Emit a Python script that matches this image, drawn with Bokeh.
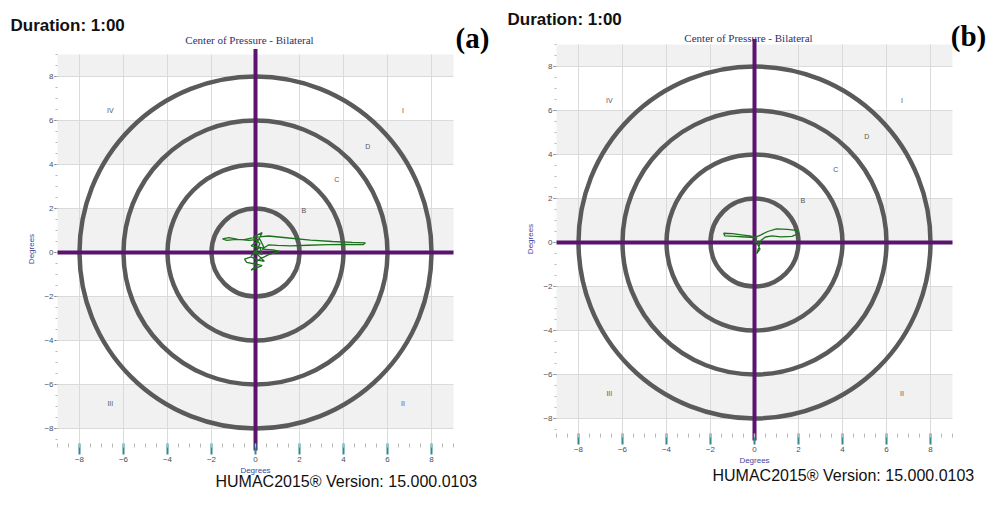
from bokeh.plotting import figure
from bokeh.models import Range1d, Label, SingleIntervalTicker
from bokeh.layouts import row
from bokeh.core.properties import value
from bokeh.embed import file_html
from bokeh.resources import INLINE

# ---------------- data ----------------
ring_radii = [2, 4, 6, 8]
band_bottoms = [-8, -4, 0, 4, 8]          # light grey horizontal bands (2 deg tall)
zone_labels = ["IV", "I", "D", "C", "B", "III", "II"]
zone_x = [-6.6, 6.7, 5.1, 3.7, 2.2, -6.6, 6.7]
zone_y = [6.45, 6.45, 4.8, 3.3, 1.9, -6.85, -6.85]

cop_a_x = [0.0, 0.2, -0.1, 0.3, 0.1, -0.2, 0.4, 0.2, -0.3, -0.8, -1.2, -1.5, -1.3, -0.9,
           -0.5, 0.0, 0.6, 1.5, 2.5, 3.5, 4.4, 5.0, 4.9, 4.2, 3.3, 2.4, 1.6, 1.0, 0.6,
           0.3, 0.8, 1.1, 0.6, 0.2, -0.1, 0.3, -0.2, 0.1, -0.4, -0.5, -0.2, 0.1, 0.4,
           -0.1, 0.3, 0.2, -0.2, 0.1, 0.0]
cop_a_y = [0.0, 0.4, 0.7, 0.9, 0.5, 0.3, 0.2, 0.6, 0.55, 0.6, 0.68, 0.62, 0.55, 0.6,
           0.58, 0.7, 0.75, 0.66, 0.56, 0.5, 0.46, 0.44, 0.36, 0.37, 0.36, 0.33, 0.3,
           0.32, 0.35, 0.15, 0.12, 0.05, -0.1, -0.3, -0.5, -0.6, -0.8, -0.55, -0.45,
           -0.3, -0.2, -0.35, -0.4, 0.1, -0.1, 0.25, -0.15, 0.05, 0.0]

cop_b_x = [0.0, 0.1, -0.2, -0.6, -1.0, -1.4, -1.35, -0.9, -0.4, 0.0, 0.3, 0.6, 1.0,
           1.5, 1.9, 2.0, 1.7, 1.2, 0.8, 0.5, 0.3, 0.2, 0.1, 0.25, 0.15, 0.2, 0.0]
cop_b_y = [0.0, 0.2, 0.3, 0.35, 0.4, 0.42, 0.3, 0.28, 0.25, 0.22, 0.35, 0.5, 0.62,
           0.6, 0.55, 0.4, 0.28, 0.26, 0.3, 0.25, 0.1, -0.2, -0.5, -0.3, -0.1, 0.05, 0.0]

duration_text = "Duration: 1:00"
title_text = "Center of Pressure - Bilateral"
version_text = "HUMAC2015\u00ae Version: 15.000.0103"
axis_title = "Degrees"

# ---------------- layout / styles ----------------
FIG_W, FIG_H = 494, 490
S = 22.0                  # px per degree
PLOT_X = (-9.0, 9.0)      # extent of the gridded plot area
PLOT_Y = (-8.7, 9.0)
CROSS_V = (-9.0, 9.25)    # vertical purple bar overshoots a little

RING = "#5a5a5a"
PURPLE = "#5a146e"
GREEN = "#1c721c"
BAND = "#f1f1f1"
GRID = "#dadada"
AXLAB = "#3c46a0"
TICKLAB = "#4c4c5c"


def make_panel(x0px, y0px, fig_left, tag, trace_x, trace_y, pos):
    # x0px, y0px: pixel position (within the figure) of the data origin
    p = figure(width=FIG_W, height=FIG_H,
               x_range=Range1d(-x0px / S, (FIG_W - x0px) / S),
               y_range=Range1d((y0px - FIG_H) / S, y0px / S),
               output_backend="svg", toolbar_location=None, min_border=0)
    p.outline_line_color = None
    p.background_fill_color = "white"
    p.border_fill_color = "white"

    for ax in (p.xaxis, p.yaxis):
        ax.ticker = SingleIntervalTicker(interval=2, num_minor_ticks=4)
        ax.axis_line_color = None
        ax.major_label_text_font = "Liberation Sans"
        ax.major_label_text_font_size = "8px"
        ax.major_label_text_color = TICKLAB
        ax.minor_tick_line_color = "#b8b8b8"
        ax.minor_tick_in = 0
        ax.major_tick_in = 0
        ax.axis_label = axis_title
        ax.axis_label_text_font = "Liberation Sans"
        ax.axis_label_text_font_size = "8px"
        ax.axis_label_text_font_style = "normal"
        ax.axis_label_text_color = AXLAB
    p.xaxis.bounds = PLOT_X
    p.yaxis.bounds = PLOT_Y
    p.xaxis.fixed_location = PLOT_Y[0]
    p.yaxis.fixed_location = PLOT_X[0]
    p.xaxis.major_tick_out = 11
    p.xaxis.minor_tick_out = 4
    p.xaxis.major_tick_line_color = "#2f8a90"
    p.xaxis.major_tick_line_width = 2
    p.xaxis.major_label_standoff = 2
    p.xaxis.axis_label_standoff = 1
    p.yaxis.major_tick_out = 3
    p.yaxis.minor_tick_out = 2
    p.yaxis.major_tick_line_color = "#555566"
    p.yaxis.major_label_standoff = 1
    p.yaxis.axis_label_standoff = 5

    p.xgrid.grid_line_color = GRID
    p.ygrid.grid_line_color = GRID
    p.xgrid.bounds = PLOT_X
    p.ygrid.bounds = PLOT_Y
    p.xgrid.cross_bounds = PLOT_Y
    p.ygrid.cross_bounds = PLOT_X

    p.quad(left=PLOT_X[0], right=PLOT_X[1], bottom=band_bottoms,
           top=[min(b + 2, PLOT_Y[1]) for b in band_bottoms],
           fill_color=BAND, line_color=None, level="image")
    p.circle(x=[0] * len(ring_radii), y=[0] * len(ring_radii), radius=ring_radii,
             fill_color=None, line_color=RING, line_width=4.5)
    p.segment(x0=[PLOT_X[0], 0], y0=[0, CROSS_V[0]], x1=[PLOT_X[1], 0], y1=[0, CROSS_V[1]],
              line_color=PURPLE, line_width=4)
    p.line(trace_x, trace_y, line_color=GREEN, line_width=1.3)
    p.text(x=zone_x, y=zone_y, text=zone_labels, text_font=value("Liberation Sans"),
           text_font_size="7px", text_color="#555555", text_align="center",
           text_baseline="middle")

    def at(px, py):   # page pixel -> data
        return (px - fig_left - x0px) / S, (y0px - py) / S

    x, y = at(*pos["duration"])
    p.add_layout(Label(x=x, y=y, text=duration_text, text_font="Liberation Sans",
                       text_font_style="bold", text_font_size="17px", text_color="#111111",
                       text_align="left", text_baseline="middle"))
    x, y = at(*pos["tag"])
    p.add_layout(Label(x=x, y=y, text=tag, text_font="Liberation Serif",
                       text_font_style="bold", text_font_size="29px", text_color="#000000",
                       text_align="center", text_baseline="middle"))
    x, y = at(*pos["title"])
    p.add_layout(Label(x=x, y=y, text=title_text, text_font="Liberation Serif",
                       text_font_size="11px", text_color="#30306a",
                       text_align="center", text_baseline="middle"))
    x, y = at(*pos["version"])
    p.add_layout(Label(x=x, y=y, text=version_text, text_font="Liberation Sans",
                       text_font_size="16px", text_color="#111111",
                       text_align="left", text_baseline="middle"))
    return p


pa = make_panel(255, 252, 0, "(a)", cop_a_x, cop_a_y,
                {"duration": (10, 25), "tag": (472, 37), "title": (249, 39),
                 "version": (215, 481)})
pb = make_panel(260, 242, FIG_W, "(b)", cop_b_x, cop_b_y,
                {"duration": (507, 19), "tag": (968, 35), "title": (748, 37),
                 "version": (712, 475)})

layout = row(pa, pb)
open("out.html", "w").write(file_html(layout, INLINE))
